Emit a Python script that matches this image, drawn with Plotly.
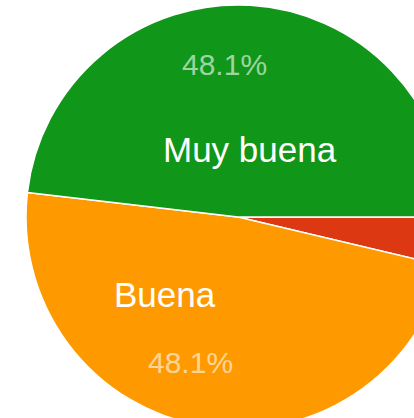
import plotly.graph_objects as go

labels = ["Regular", "Buena", "Muy buena"]
values = [1, 13, 13]
colors = ["#DC3912", "#FF9900", "#109618"]

W, H = 476, 434
cx, cy, r = 238, 217, 212

fig = go.Figure(go.Pie(
    labels=labels,
    values=values,
    marker=dict(colors=colors, line=dict(color="white", width=1.5)),
    sort=False,
    direction="clockwise",
    rotation=90,
    textinfo="none",
    hoverinfo="label+percent",
    showlegend=False,
    domain=dict(x=[(cx - r) / W, (cx + r) / W], y=[(H - cy - r) / H, (H - cy + r) / H]),
))

total = sum(values)
pct = {lab: f"{100 * v / total:.1f}%" for lab, v in zip(labels, values)}

ann_pos = {
    "Muy buena": ((250, 150), (224, 65)),
    "Buena": ((165, 294), (190, 362)),
}
annotations = []
for lab, ((lx, ly), (px, py)) in ann_pos.items():
    annotations.append(dict(x=lx / W, y=1 - ly / H, xref="paper", yref="paper", text=lab,
                            xanchor="center", yanchor="middle", showarrow=False,
                            font=dict(family="Liberation Sans, Arial", size=35, color="white")))
    annotations.append(dict(x=px / W, y=1 - py / H, xref="paper", yref="paper", text=pct[lab],
                            xanchor="center", yanchor="middle", showarrow=False,
                            font=dict(family="Liberation Sans, Arial", size=30,
                                      color="rgba(255,255,255,0.6)")))

fig.update_layout(
    width=W, height=H, autosize=False,
    margin=dict(l=0, r=0, t=0, b=0),
    paper_bgcolor="white", plot_bgcolor="white",
    annotations=annotations,
)

fig.write_html("out.html", post_script="document.body.style.margin='0';document.body.style.overflow='hidden';document.documentElement.style.overflow='hidden';")
